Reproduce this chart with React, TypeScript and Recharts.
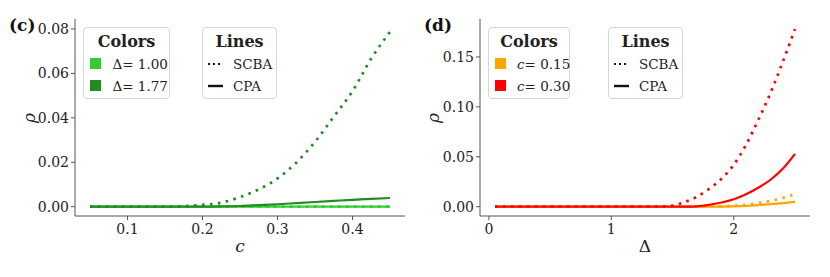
import React from 'react';
import { LineChart, Line, XAxis, YAxis } from 'recharts';

// ---------- Panel (c) data ----------
const C_VALUES = [0.05, 0.075, 0.1, 0.125, 0.15, 0.175, 0.2, 0.225, 0.25, 0.275, 0.3, 0.325, 0.35, 0.375, 0.4, 0.425, 0.45];
const D100_SCBA = [0, 0, 0, 0, 0, 0, 0, 0, 0, 0, 0, 0, 0, 0, 0, 0, 0];
const D100_CPA = [0, 0, 0, 0, 0, 0, 0, 0, 0, 0, 0, 0, 0, 0, 0, 0, 0];
const D177_SCBA = [0, 0, 0, 0, 0, 0.0002, 0.0008, 0.0018, 0.0043, 0.0078, 0.0127, 0.0198, 0.0292, 0.0405, 0.052, 0.0667, 0.0787];
const D177_CPA = [0, 0, 0, 0, 0, 0, 0, 0.0001, 0.0003, 0.0007, 0.0011, 0.0016, 0.0021, 0.0026, 0.0031, 0.0035, 0.0039];
const C_XTICKS = [0.1, 0.2, 0.3, 0.4];
const C_YTICKS = [0, 0.02, 0.04, 0.06, 0.08];

// ---------- Panel (d) data ----------
const DELTA_VALUES = [0.05, 0.25, 0.5, 0.75, 1.0, 1.25, 1.4, 1.5, 1.6, 1.7, 1.8, 1.9, 2.0, 2.1, 2.2, 2.3, 2.4, 2.5];
const C015_SCBA = [0, 0, 0, 0, 0, 0, 0, 0, 0, 0, 0.0001, 0.0004, 0.001, 0.002, 0.0037, 0.0058, 0.0088, 0.0125];
const C015_CPA = [0, 0, 0, 0, 0, 0, 0, 0, 0, 0, 0, 0.0001, 0.0004, 0.0009, 0.0016, 0.0025, 0.0036, 0.0049];
const C030_SCBA = [0, 0, 0, 0, 0, 0, 0.0002, 0.0012, 0.0048, 0.01, 0.018, 0.028, 0.042, 0.062, 0.087, 0.114, 0.145, 0.178];
const C030_CPA = [0, 0, 0, 0, 0, 0, 0, 0, 0.0001, 0.0004, 0.002, 0.0042, 0.0075, 0.0125, 0.019, 0.027, 0.038, 0.053];
const D_XTICKS = [0, 1, 2];
const D_YTICKS = [0, 0.05, 0.1, 0.15];

const LIME = '#32CD32';
const FOREST = '#228B22';
const ORANGE = '#FFA500';
const RED = '#FF0000';
const SPINE = '#555555';
const FONT = '"DejaVu Serif", serif';

const cData = C_VALUES.map((x, i) => ({ x, a_s: D100_SCBA[i], a_c: D100_CPA[i], b_s: D177_SCBA[i], b_c: D177_CPA[i] }));
const dData = DELTA_VALUES.map((x, i) => ({ x, a_s: C015_SCBA[i], a_c: C015_CPA[i], b_s: C030_SCBA[i], b_c: C030_CPA[i] }));

const tickStyle = { fontFamily: FONT, fontSize: 14, fill: '#222' };
const DOT = '2.6 5.4';

function Panel(props: any) {
  const { data, xDomain, yDomain, xTicks, yTicks, xFmt, yFmt, xLabel, colA, colB, yAxisWidth, marginLeft, marginRight } = props;
  return (
    <LineChart width={415} height={277} data={data} margin={{ top: 19, right: marginRight, bottom: 21, left: marginLeft }}>
      <XAxis dataKey="x" type="number" domain={xDomain} ticks={xTicks} tickFormatter={xFmt} allowDataOverflow
        tick={tickStyle} tickSize={4} tickMargin={4} stroke={SPINE} height={40}
        label={{ value: xLabel, position: 'insideBottom', offset: 4, style: { fontFamily: FONT, fontSize: 17, fontStyle: xLabel === 'c' ? 'italic' : 'normal', fill: '#222' } }} />
      <XAxis xAxisId="top" orientation="top" dataKey="x" type="number" domain={xDomain} allowDataOverflow height={0} tick={false} tickLine={false} stroke={SPINE} />
      <YAxis type="number" domain={yDomain} ticks={yTicks} tickFormatter={yFmt} allowDataOverflow
        tick={tickStyle} tickSize={4} tickMargin={2} stroke={SPINE} width={yAxisWidth} />
      <YAxis yAxisId="right" orientation="right" type="number" domain={yDomain} allowDataOverflow width={0} tick={false} tickLine={false} stroke={SPINE} />
      <Line dataKey="a_s" stroke={colA} strokeWidth={2.7} strokeDasharray={DOT} dot={false} type="monotone" isAnimationActive={false} />
      <Line dataKey="a_c" stroke={colA} strokeWidth={2.2} dot={false} type="monotone" isAnimationActive={false} />
      <Line dataKey="b_s" stroke={colB} strokeWidth={2.7} strokeDasharray={DOT} dot={false} type="monotone" isAnimationActive={false} />
      <Line dataKey="b_c" stroke={colB} strokeWidth={2.2} dot={false} type="monotone" isAnimationActive={false} />
    </LineChart>
  );
}

const boxStyle = (left: number, width: number): React.CSSProperties => ({
  position: 'absolute', left, top: 27, width, height: 72, border: '1px solid #d6d6d6', borderRadius: 4,
  background: 'rgba(255,255,255,0.85)', boxSizing: 'border-box', fontFamily: FONT, color: '#222',
});

function ColorLegend(props: any) {
  const { left, width, items, sqOff, txtOff } = props;
  return (
    <div style={boxStyle(left, width)}>
      <div style={{ position: 'absolute', left: 0, right: 0, top: 3, textAlign: 'center', fontWeight: 'bold', fontSize: 16, lineHeight: '22px' }}>Colors</div>
      {items.map((it: any, i: number) => (
        <React.Fragment key={i}>
          <div style={{ position: 'absolute', left: sqOff, top: 30 + i * 21.5, width: 11, height: 11, background: it.color }} />
          <div style={{ position: 'absolute', left: txtOff, top: 26 + i * 21.5, fontSize: 13.5, lineHeight: '20px', whiteSpace: 'nowrap' }}>{it.label}</div>
        </React.Fragment>
      ))}
    </div>
  );
}

function LinesLegend(props: any) {
  const { left, sampleOff, txtOff } = props;
  return (
    <div style={boxStyle(left, 75)}>
      <div style={{ position: 'absolute', left: 0, right: 0, top: 3, textAlign: 'center', fontWeight: 'bold', fontSize: 16, lineHeight: '22px' }}>Lines</div>
      <svg style={{ position: 'absolute', left: sampleOff, top: 30, overflow: 'visible' }} width={16} height={30}>
        <line x1={0} y1={6} x2={14} y2={6} stroke="#111" strokeWidth={2.2} strokeDasharray="2 3" />
        <line x1={0} y1={28} x2={15} y2={28} stroke="#111" strokeWidth={2.4} />
      </svg>
      <div style={{ position: 'absolute', left: txtOff, top: 26, fontSize: 13.5, lineHeight: '20px' }}>SCBA</div>
      <div style={{ position: 'absolute', left: txtOff, top: 47.5, fontSize: 13.5, lineHeight: '20px' }}>CPA</div>
    </div>
  );
}

const f2 = (v: number) => v.toFixed(2);
const f1 = (v: number) => v.toFixed(1);
const f0 = (v: number) => v.toFixed(0);

export default function App() {
  return (
    <div style={{ position: 'absolute', left: 0, top: 0, width: 830, height: 277, background: '#fff', fontFamily: FONT }}>
      <div style={{ position: 'absolute', left: 0, top: 0 }}>
        <Panel data={cData} xDomain={[0.03, 0.47]} yDomain={[-0.0042, 0.0845]} xTicks={C_XTICKS} yTicks={C_YTICKS}
          xFmt={f1} yFmt={f2} xLabel="c" colA={LIME} colB={FOREST} yAxisWidth={60} marginLeft={15} marginRight={10} />
      </div>
      <div style={{ position: 'absolute', left: 415, top: 0 }}>
        <Panel data={dData} xDomain={[-0.0725, 2.6225]} yDomain={[-0.0093, 0.188]} xTicks={D_XTICKS} yTicks={D_YTICKS}
          xFmt={f0} yFmt={f2} xLabel="Δ" colA={ORANGE} colB={RED} yAxisWidth={55} marginLeft={10} marginRight={20} />
      </div>

      <div style={{ position: 'absolute', left: 9, top: 13, fontSize: 17, fontWeight: 'bold', lineHeight: '24px', color: '#111' }}>(c)</div>
      <div style={{ position: 'absolute', left: 424, top: 13, fontSize: 17, fontWeight: 'bold', lineHeight: '24px', color: '#111' }}>(d)</div>

      <div style={{ position: 'absolute', left: 19, top: 106, width: 20, height: 24, lineHeight: '24px', textAlign: 'center', fontSize: 17, fontStyle: 'italic', transform: 'rotate(-90deg)', color: '#222' }}>ρ</div>
      <div style={{ position: 'absolute', left: 423, top: 106, width: 20, height: 24, lineHeight: '24px', textAlign: 'center', fontSize: 17, fontStyle: 'italic', transform: 'rotate(-90deg)', color: '#222' }}>ρ</div>

      <ColorLegend left={83} width={87} sqOff={5.5} txtOff={28.5}
        items={[{ color: LIME, label: 'Δ= 1.00' }, { color: FOREST, label: 'Δ= 1.77' }]} />
      <LinesLegend left={202} sampleOff={4.5} txtOff={30} />

      <ColorLegend left={488} width={82} sqOff={5.5} txtOff={28}
        items={[{ color: ORANGE, label: <span><i>c</i>= 0.15</span> }, { color: RED, label: <span><i>c</i>= 0.30</span> }]} />
      <LinesLegend left={608} sampleOff={4.5} txtOff={30} />
    </div>
  );
}
